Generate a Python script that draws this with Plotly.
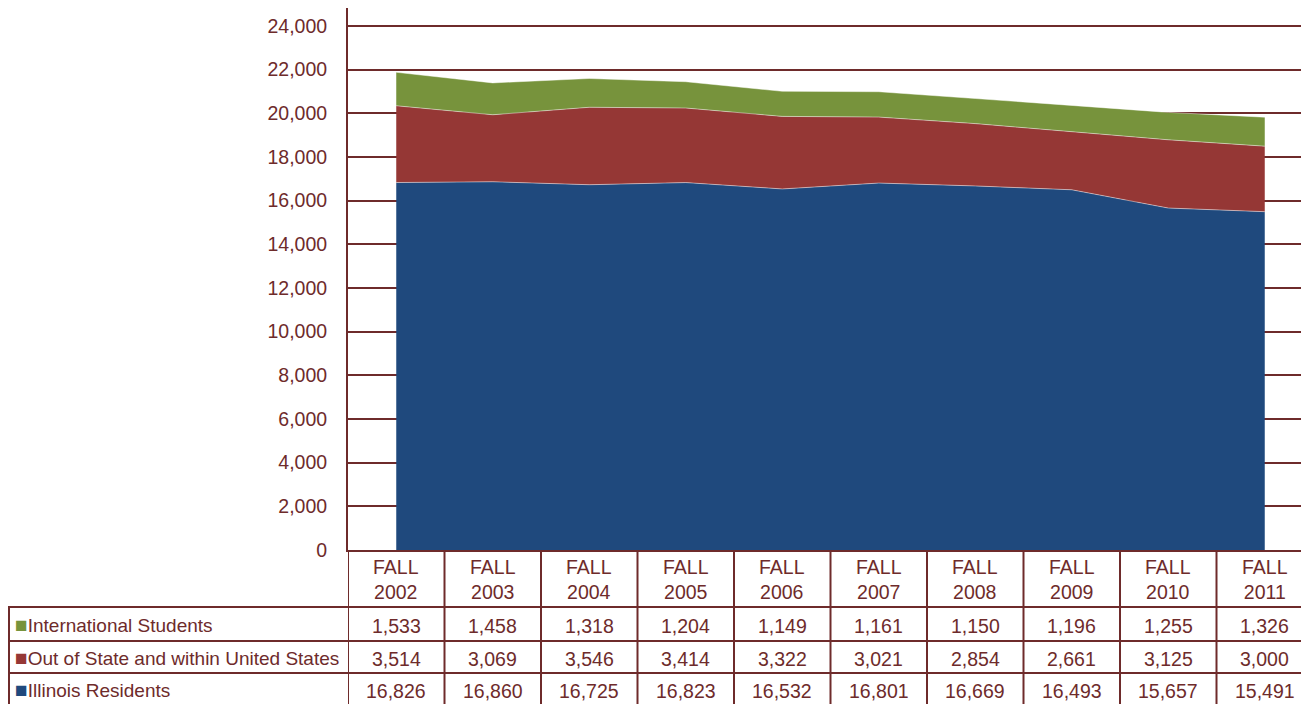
import plotly.graph_objects as go

years = ["2002", "2003", "2004", "2005", "2006", "2007", "2008", "2009", "2010", "2011"]
international = [1533, 1458, 1318, 1204, 1149, 1161, 1150, 1196, 1255, 1326]
out_of_state = [3514, 3069, 3546, 3414, 3322, 3021, 2854, 2661, 3125, 3000]
illinois = [16826, 16860, 16725, 16823, 16532, 16801, 16669, 16493, 15657, 15491]

series = [
    ("Illinois Residents", illinois, "#1F497D"),
    ("Out of State and within United States", out_of_state, "#953735"),
    ("International Students", international, "#77933C"),
]

# page has an 8px body margin, so work in reference pixels shifted by 8
OFF = 8
W, H = 1309 - OFF, 704 - OFF
L = 348 - OFF
B = H - (550 - OFF)
PH = H - B
PW = W - L
COL = 96.5  # column width in px, table runs a bit past the right edge
MAROON = "#6E2B2B"
FONT = "Arial, Liberation Sans, sans-serif"
FS = 19.5

# y=25000 sits at ref pixel 4, plot top is ref pixel 8
y_top = 25000 * (550 - 8) / (550 - 4)


def py(px):
    # reference pixel row -> paper y
    return (H - B - (px - OFF)) / PH


def pxx(px):
    return (px - OFF - L) / PW


xs = list(range(len(years)))

fig = go.Figure()
for name, vals, color in series:
    fig.add_trace(go.Scatter(
        x=xs, y=vals, name=name, mode="lines", stackgroup="one",
        fillcolor=color, line=dict(color="rgba(255,255,255,0.45)", width=1),
        hoverinfo="skip"
    ))

shapes = []
line = dict(color=MAROON, width=2)
# vertical table lines
for i in range(len(years) + 1):
    shapes.append(dict(type="line", xref="x", yref="paper", x0=i - 0.5, x1=i - 0.5,
                       y0=py(550), y1=py(706), line=line))
shapes.append(dict(type="line", xref="paper", yref="paper", x0=pxx(9), x1=pxx(9),
                   y0=py(607), y1=py(706), line=line))
# horizontal table lines
for row_y in [607, 641, 673]:
    shapes.append(dict(type="line", xref="paper", yref="paper", x0=pxx(8), x1=1,
                       y0=py(row_y), y1=py(row_y), line=line))

annotations = []
for i, yr in enumerate(years):
    annotations.append(dict(x=i, xref="x", y=py(579), yref="paper", text="FALL<br>" + yr,
                            xanchor="center", yanchor="middle", showarrow=False,
                            font=dict(size=FS, color=MAROON, family=FONT)))

rows = [
    ("International Students", international, "#77933C", 624),
    ("Out of State and within United States", out_of_state, "#953735", 657),
    ("Illinois Residents", illinois, "#1F497D", 689),
]
for name, vals, color, ry in rows:
    annotations.append(dict(
        x=pxx(13), xref="paper", y=py(ry), yref="paper", xanchor="left", yanchor="middle",
        text=f"<span style='color:{color};font-size:21px'>■</span>{name}",
        showarrow=False, font=dict(size=19, color=MAROON, family=FONT)))
    for i, v in enumerate(vals):
        annotations.append(dict(x=i, xref="x", y=py(ry + 2), yref="paper", text=f"{v:,}",
                                xanchor="center", yanchor="middle", showarrow=False,
                                font=dict(size=FS, color=MAROON, family=FONT)))

fig.update_layout(
    width=W, height=H,
    margin=dict(l=L, r=0, t=0, b=B),
    paper_bgcolor="white", plot_bgcolor="white",
    showlegend=False,
    font=dict(family=FONT, color=MAROON, size=FS),
    xaxis=dict(range=[-0.5, -0.5 + PW / COL], showticklabels=False, showgrid=False,
               zeroline=False, showline=True, linecolor=MAROON, linewidth=2, fixedrange=True),
    yaxis=dict(range=[0, y_top],
               tickvals=list(range(0, 25000, 2000)), tickformat=",",
               showgrid=True, gridcolor=MAROON, gridwidth=2, zeroline=False,
               showline=True, linecolor=MAROON, linewidth=2, ticks="",
               ticklabelstandoff=15, tickfont=dict(size=FS, color=MAROON)),
    shapes=shapes,
    annotations=annotations,
)

fig.write_html("out.html")
